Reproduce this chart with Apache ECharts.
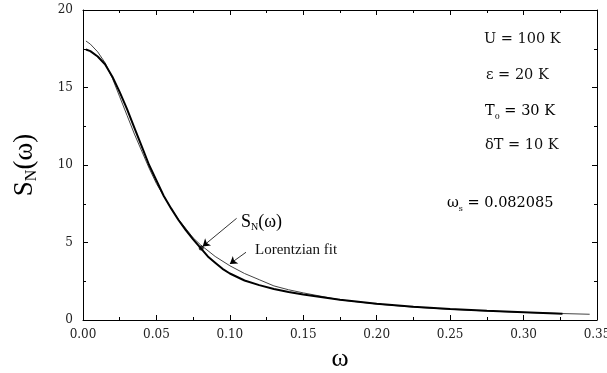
<!DOCTYPE html>
<html>
<head>
<meta charset="utf-8">
<script src="https://cdn.jsdelivr.net/npm/echarts@6/dist/echarts.min.js"></script>
<style>html,body{margin:0;padding:0;background:#fff}#c{width:607px;height:373px}</style>
</head>
<body>
<div id="c"></div>
<script>
// Data
var omegaSN = [0.002,0.005,0.01,0.015,0.02,0.025,0.03,0.035,0.04,0.045,0.05,0.055,0.06,0.065,0.07,0.075,0.08,0.085,0.09,0.095,0.10,0.11,0.12,0.13,0.14,0.15,0.175,0.20,0.225,0.25,0.275,0.30,0.3265];
var valuesSN = [17.45,17.35,17.0,16.5,15.7,14.7,13.6,12.4,11.2,10.0,9.0,8.0,7.2,6.45,5.8,5.2,4.65,4.1,3.7,3.3,3.0,2.55,2.25,2.0,1.8,1.65,1.3,1.05,0.86,0.71,0.59,0.5,0.4];
var omegaFit = [0.002,0.005,0.01,0.015,0.02,0.025,0.03,0.035,0.04,0.045,0.05,0.055,0.06,0.065,0.07,0.075,0.08,0.09,0.10,0.11,0.12,0.13,0.14,0.15,0.175,0.20,0.225,0.25,0.275,0.30,0.325,0.345];
var valuesFit = [18.0,17.8,17.3,16.6,15.6,14.4,13.2,12.0,10.9,9.8,8.8,8.0,7.2,6.5,5.9,5.3,4.85,4.1,3.5,3.0,2.6,2.2,1.95,1.75,1.3,1.03,0.83,0.69,0.58,0.49,0.42,0.37];
var omegaS = 0.082085;
var markSN = [0.0805, 4.65];
var xTicks = ['0.00','0.05','0.10','0.15','0.20','0.25','0.30','0.35'];
var yTicks = ['0','5','10','15','20'];
var params = ['U = 100 K', 'ε = 20 K', 'T0 = 30 K', 'δT = 10 K'];

function pairs(xs, ys){ return xs.map(function(x,i){return [x, ys[i]];}); }

var serif = '"Liberation Serif", "DejaVu Serif", serif';
var dserif = '"DejaVu Serif", serif';
var chart = echarts.init(document.getElementById('c'));
function axisCommon(){
  return {
    axisLine: {show: true, onZero: false, lineStyle: {color: '#000', width: 1}},
    axisTick: {show: true, inside: true, length: 5, lineStyle: {color: '#000'}},
    minorTick: {show: true, splitNumber: 2, length: 3, lineStyle: {color: '#000'}},
    splitLine: {show: false}
  };
}
var subRich = {
  b: {fontFamily: serif, fontSize: 27, color: '#000', lineHeight: 30},
  s: {fontFamily: serif, fontSize: 16, color: '#000', lineHeight: 14, verticalAlign: 'bottom'}
};
var lblRich = {
  b: {fontFamily: serif, fontSize: 18, color: '#111', lineHeight: 20},
  s: {fontFamily: serif, fontSize: 10, color: '#111', lineHeight: 8, verticalAlign: 'bottom'}
};
var txtRich = {
  b: {fontFamily: dserif, fontSize: 14.5, color: '#111', lineHeight: 18},
  s: {fontFamily: dserif, fontSize: 8, color: '#111', lineHeight: 8, verticalAlign: 'bottom'}
};
var tickFont = {fontFamily: dserif, fontSize: 12, color: '#222'};
chart.setOption({
  animation: false,
  backgroundColor: '#fff',
  grid: {left: 83, right: 10, top: 10, bottom: 53, containLabel: false, outerBoundsMode: 'none'},
  xAxis: [
    Object.assign({type: 'value', min: 0, max: 0.35, interval: 0.05, position: 'bottom',
      name: 'ω', nameLocation: 'middle', nameGap: 24,
      nameTextStyle: {fontFamily: serif, fontSize: 26, color: '#000'},
      axisLabel: Object.assign({margin: 9,
        formatter: function(v){ return xTicks[Math.round(v/0.05)]; }}, tickFont)}, axisCommon()),
    Object.assign({type: 'value', min: 0, max: 0.35, interval: 0.05, position: 'top',
      axisLabel: {show: false}}, axisCommon())
  ],
  yAxis: [
    Object.assign({type: 'value', min: 0, max: 20, interval: 5, position: 'left',
      name: '{b|S}{s|N}{b|(ω)}', nameLocation: 'middle', nameGap: 43, nameRotate: 90,
      nameTextStyle: {rich: subRich},
      axisLabel: Object.assign({margin: 10,
        formatter: function(v){ return yTicks[Math.round(v/5)]; }}, tickFont)}, axisCommon()),
    Object.assign({type: 'value', min: 0, max: 20, interval: 5, position: 'right',
      axisLabel: {show: false}}, axisCommon())
  ],
  series: [
    {type: 'line', name: 'Lorentzian fit', data: pairs(omegaFit, valuesFit), showSymbol: false,
      smooth: false, lineStyle: {color: '#444', width: 1}, z: 2},
    {type: 'line', name: 'SN', data: pairs(omegaSN, valuesSN), showSymbol: false,
      smooth: false, lineStyle: {color: '#000', width: 2}, z: 3,
      markLine: {silent: true, symbol: ['none', 'arrow'], symbolSize: 7, label: {show: false},
        lineStyle: {color: '#000', width: 0.8, type: 'solid'},
        data: [
          [{coord: [0.1046, 6.56]}, {coord: [0.0815, 4.75]}],
          [{coord: [0.111, 4.37]}, {coord: [0.1, 3.62]}]
        ]}},
    {type: 'scatter', data: [markSN], symbolSize: 5, itemStyle: {color: '#000'}, z: 4}
  ],
  graphic: [
    {type: 'text', left: 241, top: 213, style: {rich: lblRich, text: '{b|S}{s|N}{b|(ω)}'}},
    {type: 'text', left: 255, top: 243, style: {text: 'Lorentzian fit', font: '15px ' + serif, fill: '#111'}},
    {type: 'text', left: 484, top: 32, style: {text: params[0], font: '14.5px ' + dserif, fill: '#111'}},
    {type: 'text', left: 486, top: 68, style: {text: params[1], font: '14.5px ' + dserif, fill: '#111'}},
    {type: 'text', left: 485, top: 104, style: {rich: txtRich, text: '{b|T}{s|0}{b| = 30 K}'}},
    {type: 'text', left: 485, top: 138, style: {text: params[3], font: '14.5px ' + dserif, fill: '#111'}},
    {type: 'text', left: 447, top: 196, style: {rich: txtRich, text: '{b|ω}{s|s}{b| = 0.082085}'}}
  ]
});
</script>
</body>
</html>
